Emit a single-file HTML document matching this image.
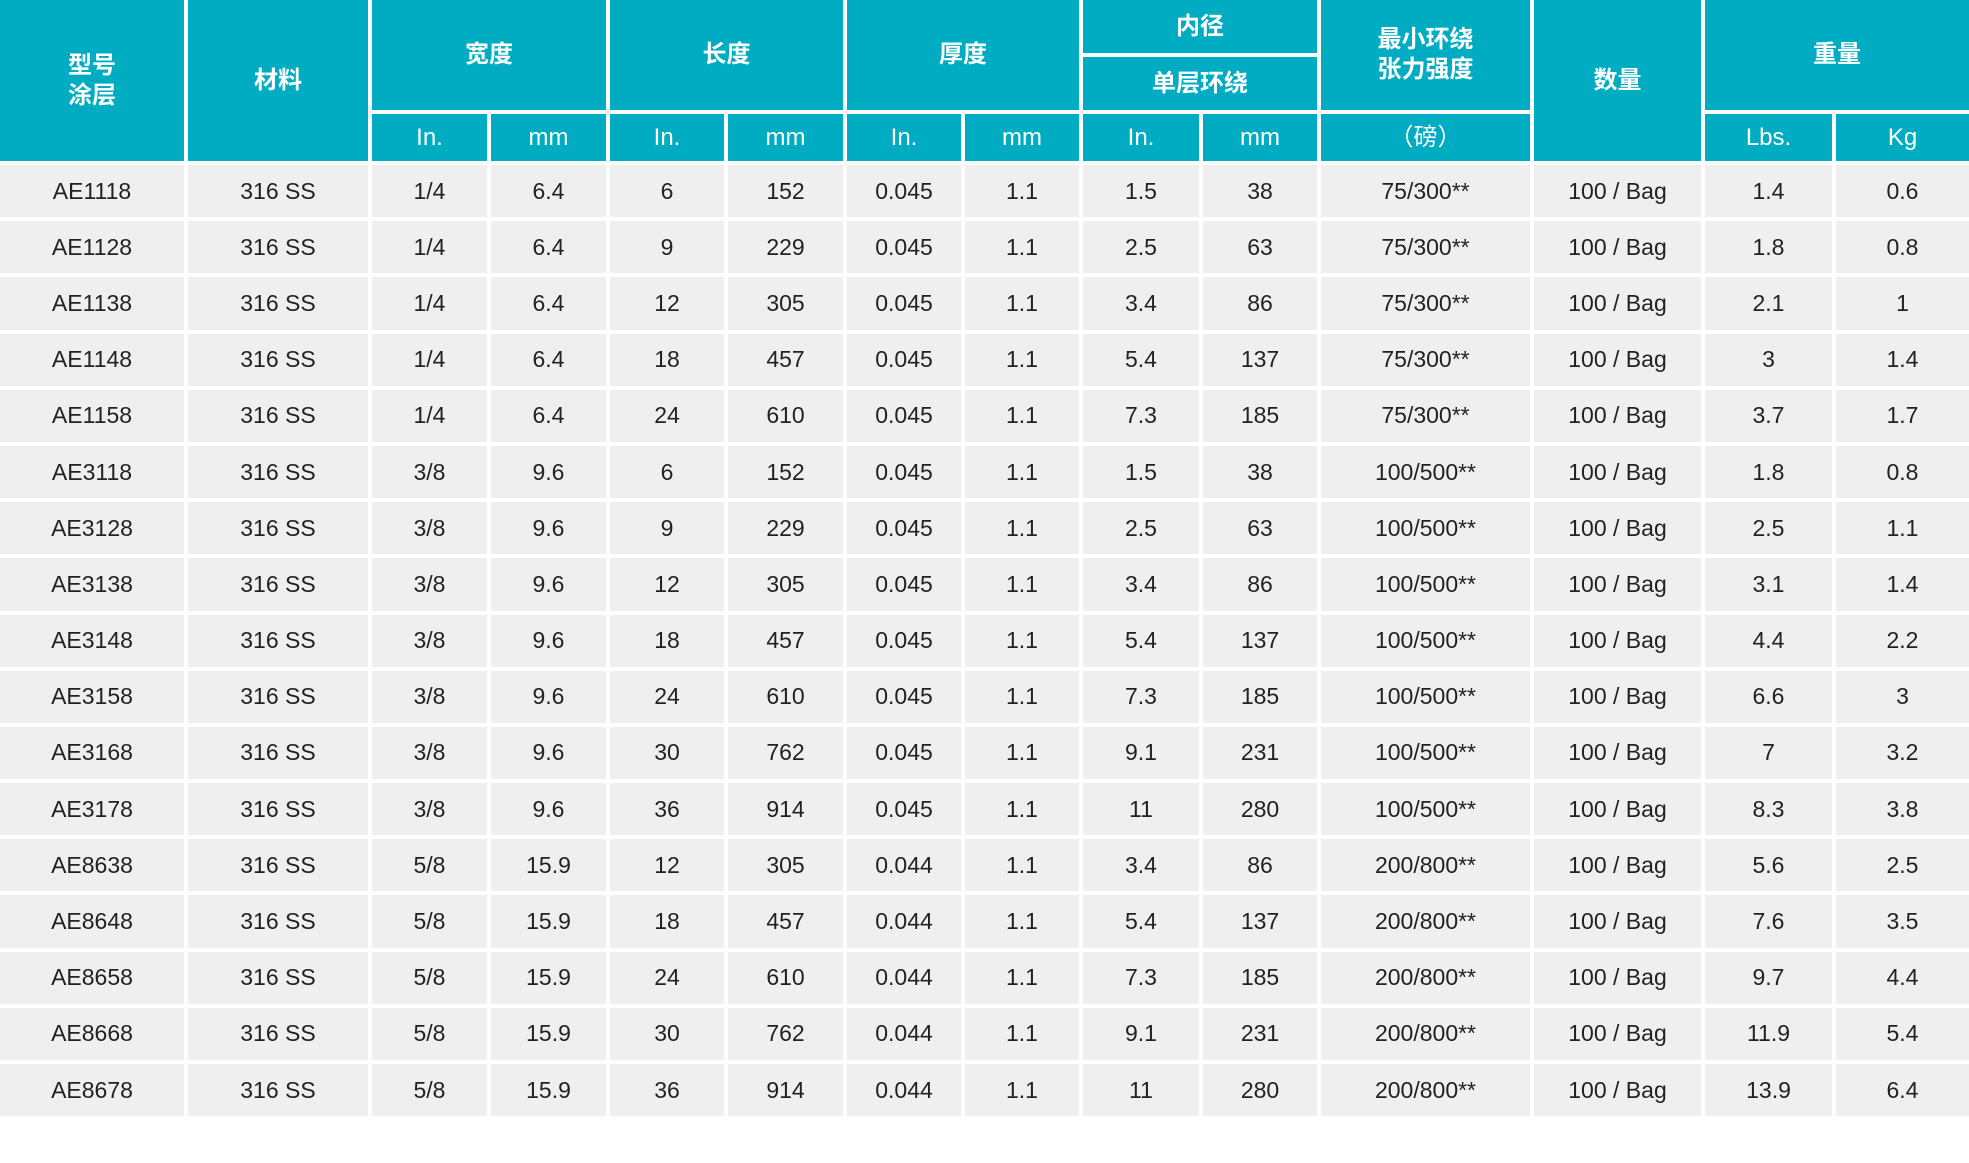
<!DOCTYPE html>
<html><head><meta charset="utf-8"><style>
html,body{margin:0;padding:0;background:#fff;width:1969px;height:1163px;overflow:hidden}
table{border-collapse:collapse;table-layout:fixed;width:1969px;margin:0;font-family:"Liberation Sans Narrow","Liberation Sans","Noto Sans CJK SC",sans-serif}
td,th{border:4px solid #fff;padding:0;text-align:center;vertical-align:middle;overflow:hidden;white-space:nowrap}
table tr:first-child td,table tr:first-child th{border-top:0}
td:first-child,th:first-child{border-left:0}
td:last-child,th:last-child{border-right:0}
th{background:#00acc1;color:#fff;font-family:"Liberation Sans","Noto Sans CJK SC",sans-serif;font-weight:bold;font-size:24px;line-height:30px}
th.u{font-weight:normal;font-size:24px}
td{background:#efefef;color:#222;font-size:23px;height:48px}
tr.h1{height:55px}tr.h2{height:57px}tr.h3{height:51px}
tr.d{height:56.2px}
</style></head><body>
<table>
<colgroup><col style="width:186px"><col style="width:184px"><col style="width:119px"><col style="width:119px"><col style="width:118px"><col style="width:119px"><col style="width:118px"><col style="width:118px"><col style="width:120px"><col style="width:118px"><col style="width:213px"><col style="width:171px"><col style="width:131px"><col style="width:135px"></colgroup>
<tr class="h1"><th rowspan="3">型号<br>涂层</th><th rowspan="3">材料</th><th colspan="2" rowspan="2">宽度</th><th colspan="2" rowspan="2">长度</th><th colspan="2" rowspan="2">厚度</th><th colspan="2">内径</th><th rowspan="2">最小环绕<br>张力强度</th><th rowspan="3">数量</th><th colspan="2" rowspan="2">重量</th></tr>
<tr class="h2"><th colspan="2">单层环绕</th></tr>
<tr class="h3"><th class="u">In.</th><th class="u">mm</th><th class="u">In.</th><th class="u">mm</th><th class="u">In.</th><th class="u">mm</th><th class="u">In.</th><th class="u">mm</th><th class="u">（磅）</th><th class="u">Lbs.</th><th class="u">Kg</th></tr>
<tr class="d"><td>AE1118</td><td>316 SS</td><td>1/4</td><td>6.4</td><td>6</td><td>152</td><td>0.045</td><td>1.1</td><td>1.5</td><td>38</td><td>75/300**</td><td>100 / Bag</td><td>1.4</td><td>0.6</td></tr>
<tr class="d"><td>AE1128</td><td>316 SS</td><td>1/4</td><td>6.4</td><td>9</td><td>229</td><td>0.045</td><td>1.1</td><td>2.5</td><td>63</td><td>75/300**</td><td>100 / Bag</td><td>1.8</td><td>0.8</td></tr>
<tr class="d"><td>AE1138</td><td>316 SS</td><td>1/4</td><td>6.4</td><td>12</td><td>305</td><td>0.045</td><td>1.1</td><td>3.4</td><td>86</td><td>75/300**</td><td>100 / Bag</td><td>2.1</td><td>1</td></tr>
<tr class="d"><td>AE1148</td><td>316 SS</td><td>1/4</td><td>6.4</td><td>18</td><td>457</td><td>0.045</td><td>1.1</td><td>5.4</td><td>137</td><td>75/300**</td><td>100 / Bag</td><td>3</td><td>1.4</td></tr>
<tr class="d"><td>AE1158</td><td>316 SS</td><td>1/4</td><td>6.4</td><td>24</td><td>610</td><td>0.045</td><td>1.1</td><td>7.3</td><td>185</td><td>75/300**</td><td>100 / Bag</td><td>3.7</td><td>1.7</td></tr>
<tr class="d"><td>AE3118</td><td>316 SS</td><td>3/8</td><td>9.6</td><td>6</td><td>152</td><td>0.045</td><td>1.1</td><td>1.5</td><td>38</td><td>100/500**</td><td>100 / Bag</td><td>1.8</td><td>0.8</td></tr>
<tr class="d"><td>AE3128</td><td>316 SS</td><td>3/8</td><td>9.6</td><td>9</td><td>229</td><td>0.045</td><td>1.1</td><td>2.5</td><td>63</td><td>100/500**</td><td>100 / Bag</td><td>2.5</td><td>1.1</td></tr>
<tr class="d"><td>AE3138</td><td>316 SS</td><td>3/8</td><td>9.6</td><td>12</td><td>305</td><td>0.045</td><td>1.1</td><td>3.4</td><td>86</td><td>100/500**</td><td>100 / Bag</td><td>3.1</td><td>1.4</td></tr>
<tr class="d"><td>AE3148</td><td>316 SS</td><td>3/8</td><td>9.6</td><td>18</td><td>457</td><td>0.045</td><td>1.1</td><td>5.4</td><td>137</td><td>100/500**</td><td>100 / Bag</td><td>4.4</td><td>2.2</td></tr>
<tr class="d"><td>AE3158</td><td>316 SS</td><td>3/8</td><td>9.6</td><td>24</td><td>610</td><td>0.045</td><td>1.1</td><td>7.3</td><td>185</td><td>100/500**</td><td>100 / Bag</td><td>6.6</td><td>3</td></tr>
<tr class="d"><td>AE3168</td><td>316 SS</td><td>3/8</td><td>9.6</td><td>30</td><td>762</td><td>0.045</td><td>1.1</td><td>9.1</td><td>231</td><td>100/500**</td><td>100 / Bag</td><td>7</td><td>3.2</td></tr>
<tr class="d"><td>AE3178</td><td>316 SS</td><td>3/8</td><td>9.6</td><td>36</td><td>914</td><td>0.045</td><td>1.1</td><td>11</td><td>280</td><td>100/500**</td><td>100 / Bag</td><td>8.3</td><td>3.8</td></tr>
<tr class="d"><td>AE8638</td><td>316 SS</td><td>5/8</td><td>15.9</td><td>12</td><td>305</td><td>0.044</td><td>1.1</td><td>3.4</td><td>86</td><td>200/800**</td><td>100 / Bag</td><td>5.6</td><td>2.5</td></tr>
<tr class="d"><td>AE8648</td><td>316 SS</td><td>5/8</td><td>15.9</td><td>18</td><td>457</td><td>0.044</td><td>1.1</td><td>5.4</td><td>137</td><td>200/800**</td><td>100 / Bag</td><td>7.6</td><td>3.5</td></tr>
<tr class="d"><td>AE8658</td><td>316 SS</td><td>5/8</td><td>15.9</td><td>24</td><td>610</td><td>0.044</td><td>1.1</td><td>7.3</td><td>185</td><td>200/800**</td><td>100 / Bag</td><td>9.7</td><td>4.4</td></tr>
<tr class="d"><td>AE8668</td><td>316 SS</td><td>5/8</td><td>15.9</td><td>30</td><td>762</td><td>0.044</td><td>1.1</td><td>9.1</td><td>231</td><td>200/800**</td><td>100 / Bag</td><td>11.9</td><td>5.4</td></tr>
<tr class="d"><td>AE8678</td><td>316 SS</td><td>5/8</td><td>15.9</td><td>36</td><td>914</td><td>0.044</td><td>1.1</td><td>11</td><td>280</td><td>200/800**</td><td>100 / Bag</td><td>13.9</td><td>6.4</td></tr>
</table>
</body></html>
